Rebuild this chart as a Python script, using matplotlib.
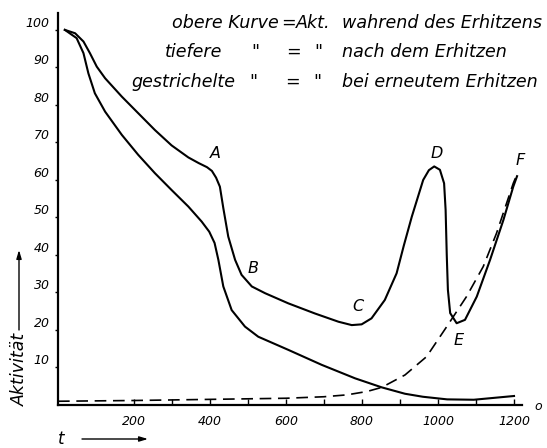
import matplotlib
matplotlib.use("Agg")
import matplotlib.pyplot as plt

# curve data (t in deg, Aktivitaet in %)
upper_t = [18, 45, 67, 84, 102, 124, 168, 211, 255, 299, 343, 370, 392, 405,
           416, 426, 435, 448, 466, 483, 510, 545, 606, 676, 738, 773, 799,
           825, 860, 891, 910, 931, 961, 976, 990, 1005, 1016, 1020, 1023,
           1026, 1032, 1049, 1071, 1102, 1137, 1172, 1198, 1208]
upper_a = [100, 99.1, 96.9, 93.8, 90.2, 87.1, 82.2, 77.8, 73.3, 69.2, 66,
           64.5, 63.4, 62.4, 60.6, 58.2, 52.5, 44.9, 38.7, 34.7, 31.6, 29.8,
           27.1, 24.4, 22.2, 21.3, 21.5, 23.1, 28, 35.1, 42.5, 50.2, 60, 62.6,
           63.6, 62.7, 59.1, 52, 40, 30.7, 24.5, 21.8, 22.7, 28.9, 38.7, 49.3,
           58.2, 61]

lower_t = [18, 49, 67, 80, 97, 124, 168, 211, 255, 299, 343, 378, 398, 412,
           422, 435, 457, 492, 527, 606, 694, 782, 852, 913, 960, 1024, 1094,
           1200]
lower_a = [100, 97.8, 93.8, 88.4, 83.1, 78.2, 72, 66.7, 61.8, 57.3, 52.9, 48.9,
           46.2, 43.2, 38.7, 31.6, 25.3, 20.9, 18.2, 14.7, 10.7, 7.1, 4.7, 3.0,
           2.2, 1.5, 1.4, 2.4]

dashed_t = [0, 200, 400, 600, 700, 760, 813, 852, 913, 970, 1023, 1075, 1119,
            1154, 1198, 1210]
dashed_a = [1.0, 1.2, 1.5, 1.8, 2.2, 2.7, 3.6, 4.7, 8.0, 12.9, 20.9, 28.9,
            36.9, 45.8, 59.1, 62]

point_names = ["A", "B", "C", "D", "E", "F"]
point_t = [413, 514, 790, 996, 1054, 1216]
point_a = [67.1, 36.4, 26.2, 67.1, 17.3, 65.3]

xticks = [200, 400, 600, 800, 1000, 1200]
yticks = [10, 20, 30, 40, 50, 60, 70, 80, 90, 100]

plt.rcParams["font.family"] = ["DejaVu Sans"]
plt.rcParams["font.style"] = "italic"

W, H = 547, 448
fig = plt.figure(figsize=(W / 100, H / 100), dpi=100)
ax = fig.add_axes([58 / W, 1 - 405 / H, 464 / W, 392 / H])

ax.plot(upper_t, upper_a, color="black", lw=1.5, solid_joinstyle="round")
ax.plot(lower_t, lower_a, color="black", lw=1.5, solid_joinstyle="round")
ax.plot(dashed_t, dashed_a, color="black", lw=1.2, dashes=(7, 4))

for name, t, a in zip(point_names, point_t, point_a):
    ax.text(t, a, name, fontsize=11.5, ha="center", va="center")

ax.set_xlim(0, 1221)
ax.set_ylim(0, 104.5)
for side in ["top", "right"]:
    ax.spines[side].set_visible(False)
for side in ["left", "bottom"]:
    ax.spines[side].set_linewidth(1.6)

ax.set_xticks(xticks)
ax.set_xticklabels([str(v) for v in xticks])
ax.set_xticks([300, 500, 700, 900, 1100], minor=True)
ax.tick_params(axis="x", which="both", direction="in", length=4, width=1,
               pad=7, labelsize=9)
ax.set_yticks(yticks)
ax.set_yticklabels([str(v) for v in yticks])
ax.tick_params(axis="y", direction="out", length=2, width=1, pad=4,
               labelsize=9)
plt.setp(ax.get_yticklabels(), va="bottom")


def ftext(px, py, s, **kw):
    fig.text(px / W, 1 - py / H, s, va="center", **kw)


hs = 12.6
ftext(172, 23, "obere Kurve", fontsize=hs, ha="left")
ftext(288, 23, "=", fontsize=hs, ha="center")
ftext(296, 23, "Akt.", fontsize=hs, ha="left")
ftext(342, 23, "wahrend des Erhitzens", fontsize=hs, ha="left")
ftext(165, 52, "tiefere", fontsize=hs, ha="left")
ftext(255, 52, "\"", fontsize=hs, ha="center")
ftext(293, 52, "=", fontsize=hs, ha="center")
ftext(318, 52, "\"", fontsize=hs, ha="center")
ftext(342, 52, "nach dem Erhitzen", fontsize=hs, ha="left")
ftext(131, 82, "gestrichelte", fontsize=hs, ha="left")
ftext(253, 82, "\"", fontsize=hs, ha="center")
ftext(292, 82, "=", fontsize=hs, ha="center")
ftext(317, 82, "\"", fontsize=hs, ha="center")
ftext(342, 82, "bei erneutem Erhitzen", fontsize=hs, ha="left")

ftext(20, 369, "Aktivität", fontsize=12.5, ha="center", rotation=90)
ftext(61, 439, "t", fontsize=12, ha="center")
ftext(538, 406, "o", fontsize=9, ha="center")

arrow = dict(arrowstyle="-|>,head_length=0.5,head_width=0.15", color="black",
             lw=1.0, shrinkA=0, shrinkB=0)
ax.annotate("", xy=(19, H - 250), xytext=(19, H - 330),
            xycoords="figure pixels", textcoords="figure pixels",
            arrowprops=arrow, annotation_clip=False)
ax.annotate("", xy=(148, H - 439), xytext=(82, H - 439),
            xycoords="figure pixels", textcoords="figure pixels",
            arrowprops=arrow, annotation_clip=False)

fig.savefig("out.png", dpi=100)
